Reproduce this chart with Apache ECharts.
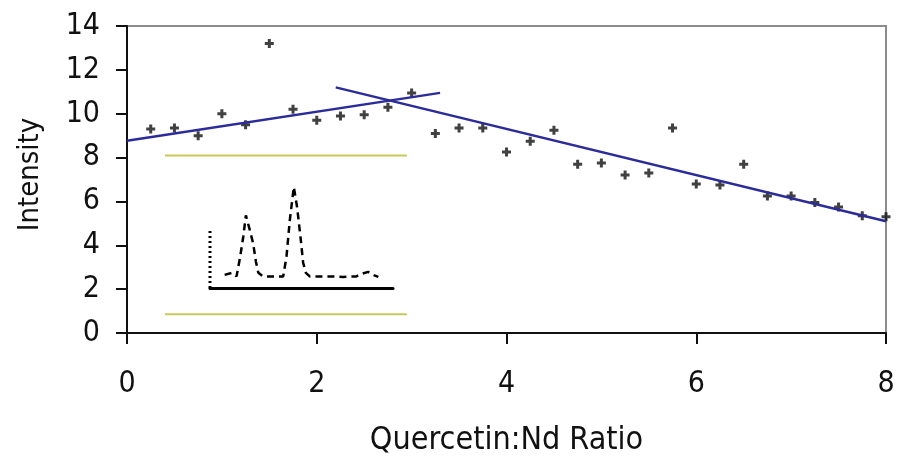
<!DOCTYPE html>
<html>
<head>
<meta charset="utf-8">
<script src="https://cdn.jsdelivr.net/npm/echarts@6/dist/echarts.min.js"></script>
<style>
  html, body { margin: 0; padding: 0; background: #fff; }
  #chart { width: 898px; height: 456px; }
</style>
</head>
<body>
<div id="chart"></div>
<script>
// measured intensity vs quercetin:Nd ratio
const ratios = [0.25, 0.5, 0.75, 1, 1.25, 1.5, 1.75, 2, 2.25, 2.5, 2.75, 3, 3.25, 3.5, 3.75, 4,
  4.25, 4.5, 4.75, 5, 5.25, 5.5, 5.75, 6, 6.25, 6.5, 6.75, 7, 7.25, 7.5, 7.75, 8];
const intensity = [9.3, 9.35, 9.0, 10.0, 9.5, 13.2, 10.2, 9.7, 9.9, 9.95, 10.3, 10.95, 9.1, 9.35, 9.35, 8.25,
  8.75, 9.25, 7.7, 7.75, 7.2, 7.3, 9.35, 6.8, 6.75, 7.7, 6.25, 6.25, 5.95, 5.75, 5.35, 5.3];

// fitted trend lines (endpoints)
const risingTrend = [[0, 8.77], [3.3, 10.95]];
const fallingTrend = [[2.2, 11.2], [8, 5.1]];

// yellow frame lines around the inset
const insetTopRule = [[0.4, 8.1], [2.95, 8.1]];
const insetBottomRule = [[0.4, 0.85], [2.95, 0.85]];

// inset spectrum (arbitrary units, 0-100)
const spectrumX = [8, 12, 14.5, 16.4, 18.2, 19.6, 21.8, 23.6, 25.1, 26.4, 29, 40, 41.8, 43.6, 45.8,
  47.6, 49.6, 50.9, 52.4, 54.5, 65.5, 72.7, 80, 82.7, 86.4, 89, 92];
const spectrumY = [13, 15, 11.5, 30, 51, 72, 57, 44, 26, 15, 11.5, 11.5, 31, 67, 100,
  80, 48, 25, 15, 11.5, 11.5, 11, 11.5, 14, 16, 13, 11];
const spectrumAxis = [[0, 0], [0, 57]];

const xTicks = [0, 2, 4, 6, 8];
const yTicks = [0, 2, 4, 6, 8, 10, 12, 14];

const font = '"DejaVu Sans Condensed", "Liberation Sans Narrow", "Liberation Sans", sans-serif';
const plusMark = 'path://M3,0H6V3H9V6H6V9H3V6H0V3H3Z';

const chart = echarts.init(document.getElementById('chart'));
chart.setOption({
  animation: false,
  backgroundColor: '#fff',
  grid: [
    {
      left: 127, right: 12, top: 26, bottom: 123, show: true, borderColor: '#8c8c8c', borderWidth: 2,
      outerBoundsMode: 'none'
    },
    { left: 210, width: 183, top: 187, height: 101, outerBoundsMode: 'none' }
  ],
  xAxis: [
    {
      type: 'value', min: xTicks[0], max: xTicks[xTicks.length - 1], interval: 2,
      name: 'Quercetin:Nd Ratio', nameLocation: 'middle', nameGap: 92,
      nameTextStyle: { fontFamily: font, fontSize: 32, color: '#111' },
      axisLine: { lineStyle: { color: '#111', width: 2 } },
      axisTick: { inside: false, length: 11, lineStyle: { color: '#111', width: 2 } },
      axisLabel: { margin: 36, fontFamily: font, fontSize: 30, color: '#111' },
      splitLine: { show: false }
    },
    {
      type: 'value', gridIndex: 1, min: 0, max: 100,
      axisLine: { lineStyle: { color: '#000', width: 3 } },
      axisTick: { show: false }, axisLabel: { show: false }, splitLine: { show: false }
    }
  ],
  yAxis: [
    {
      type: 'value', min: yTicks[0], max: yTicks[yTicks.length - 1], interval: 2,
      name: 'Intensity', nameLocation: 'middle', nameGap: 82, nameRotate: 90,
      nameTextStyle: { fontFamily: font, fontSize: 29, color: '#111', padding: [0, 0, 0, 10] },
      axisLine: { lineStyle: { color: '#111', width: 2 } },
      axisTick: { inside: false, length: 11, lineStyle: { color: '#111', width: 2 } },
      axisLabel: { margin: 27, fontFamily: font, fontSize: 30, color: '#111' },
      splitLine: { show: false }
    },
    {
      type: 'value', gridIndex: 1, min: 0, max: 100,
      axisLine: { show: false }, axisTick: { show: false }, axisLabel: { show: false }, splitLine: { show: false }
    }
  ],
  series: [
    {
      type: 'line', data: insetTopRule, symbol: 'none', silent: true,
      lineStyle: { color: '#c9c95a', width: 2 }
    },
    {
      type: 'line', data: insetBottomRule, symbol: 'none', silent: true,
      lineStyle: { color: '#c9c95a', width: 2 }
    },
    {
      type: 'line', data: risingTrend, symbol: 'none', silent: true,
      lineStyle: { color: '#2b2b9c', width: 2.5 }
    },
    {
      type: 'line', data: fallingTrend, symbol: 'none', silent: true,
      lineStyle: { color: '#2b2b9c', width: 2.5 }
    },
    {
      type: 'scatter', data: ratios.map((r, i) => [r, intensity[i]]),
      symbol: plusMark, symbolSize: 9, itemStyle: { color: '#111' }
    },
    {
      type: 'line', xAxisIndex: 1, yAxisIndex: 1, data: spectrumAxis, symbol: 'none', silent: true,
      lineStyle: { color: '#000', width: 3, type: [2, 3] }
    },
    {
      type: 'line', xAxisIndex: 1, yAxisIndex: 1, data: spectrumX.map((x, i) => [x, spectrumY[i]]),
      symbol: 'none', silent: true,
      lineStyle: { color: '#000', width: 2.5, type: [7, 5] }
    }
  ]
});
</script>
</body>
</html>
